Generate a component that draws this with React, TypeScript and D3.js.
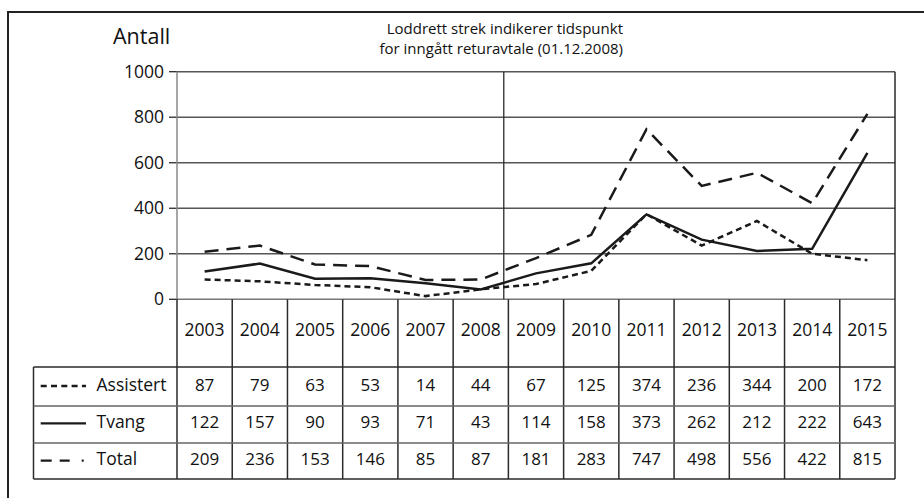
import React from "react";
import * as d3 from "d3";

const years = ["2003","2004","2005","2006","2007","2008","2009","2010","2011","2012","2013","2014","2015"];
const assistert = [87, 79, 63, 53, 14, 44, 67, 125, 374, 236, 344, 200, 172];
const tvang = [122, 157, 90, 93, 71, 43, 114, 158, 373, 262, 212, 222, 643];
const total = [209, 236, 153, 146, 85, 87, 181, 283, 747, 498, 556, 422, 815];
const yTicks = [0, 200, 400, 600, 800, 1000];
const seriesNames = ["Assistert", "Tvang", "Total"];
const titleLines = ["Loddrett strek indikerer tidspunkt", "for inngått returavtale (01.12.2008)"];
const yLabel = "Antall";
const agreementYear = "2008";
const agreementMonthFraction = 11 / 12;

const W = 924;
const H = 498;
const FONT = "'Open Sans', 'Noto Sans', sans-serif";

export default function App() {
  const plotLeft = 177;
  const plotRight = 895;
  const plotTop = 71.7;
  const plotBottom = 299.3;
  const x = d3.scaleBand<string>().domain(years).range([plotLeft, plotRight]).padding(0);
  const y = d3.scaleLinear().domain([0, 1000]).range([plotBottom, plotTop]);
  const bw = x.bandwidth();
  const cx = (yr: string) => (x(yr) as number) + bw / 2;

  const line = d3
    .line<number>()
    .x((_, i) => cx(years[i]))
    .y((d) => y(d));

  const series = [
    { name: seriesNames[0], values: assistert, dash: "6,4", legendDash: "6,4.3" },
    { name: seriesNames[1], values: tvang, dash: "none", legendDash: "none" },
    { name: seriesNames[2], values: total, dash: "14,8", legendDash: "11,8,10,12,2,100" },
  ];

  const rowTops = [367, 406, 443];
  const rowBottom = 479;
  const rowBaselines = [390.7, 428, 465];
  const legendLineY = [386, 423.3, 460.7];
  const tableLeft = 33.5;
  const yearBaseline = 335.5;

  const agreementX = cx(agreementYear) + (agreementMonthFraction - 0.5) * bw;

  const lineColor = "#2a2a2a";
  const gridColor = "#555";
  const textColor = "#111";

  return (
    <svg width={W} height={H} style={{ position: "absolute", left: 0, top: 0, background: "#fff" }}>
      <rect x={0} y={0} width={W} height={H} fill="#fff" />
      {/* outer frame */}
      <line x1={8} x2={W} y1={12} y2={12} stroke="#222" strokeWidth={2} />
      <line x1={8} x2={8} y1={11} y2={H} stroke="#222" strokeWidth={2} />

      {/* titles */}
      <text x={113} y={44} fontFamily={FONT} fontSize={21.5} fill={textColor}>{yLabel}</text>
      {titleLines.map((t, i) => (
        <text key={t} x={623} y={33.5 + i * 20.6} textAnchor="end" fontFamily={FONT} fontSize={15} fill={textColor}>{t}</text>
      ))}

      {/* gridlines */}
      {yTicks.filter((t) => t > 0).map((t) => (
        <line key={t} x1={plotLeft} x2={plotRight} y1={y(t)} y2={y(t)} stroke={gridColor} strokeWidth={1.4} />
      ))}
      {/* ticks and labels */}
      {yTicks.map((t) => (
        <g key={"t" + t}>
          <line x1={169} x2={plotLeft} y1={y(t)} y2={y(t)} stroke={lineColor} strokeWidth={1.3} />
          <text x={164} y={y(t) + 5.8} textAnchor="end" fontFamily={FONT} fontSize={17.5} fill={textColor}>{t}</text>
        </g>
      ))}

      {/* plot borders */}
      <line x1={plotLeft} x2={plotLeft} y1={plotTop} y2={plotBottom} stroke="#888" strokeWidth={1.5} />
      <line x1={plotLeft} x2={plotRight} y1={plotBottom} y2={plotBottom} stroke="#777" strokeWidth={1.5} />
      <line x1={plotRight} x2={plotRight} y1={plotTop} y2={rowBottom} stroke={lineColor} strokeWidth={1.5} />

      {/* agreement vertical line */}
      <line x1={agreementX} x2={agreementX} y1={plotTop} y2={plotBottom} stroke={lineColor} strokeWidth={1.3} />

      {/* series lines */}
      {series.map((s) => (
        <path
          key={s.name}
          d={line(s.values) || ""}
          fill="none"
          stroke="#1a1a1a"
          strokeWidth={2.5}
          strokeDasharray={s.dash}
          strokeLinejoin="miter"
        />
      ))}

      {/* table grid */}
      {years.map((yr) => (
        <line key={"v" + yr} x1={x(yr) as number} x2={x(yr) as number} y1={plotBottom} y2={rowBottom} stroke={lineColor} strokeWidth={1.5} />
      ))}
      <line x1={tableLeft} x2={tableLeft} y1={rowTops[0]} y2={rowBottom} stroke={lineColor} strokeWidth={1.5} />
      {[...rowTops, rowBottom].map((ry, i) => (
        <line key={"h" + i} x1={tableLeft} x2={plotRight} y1={ry} y2={ry} stroke={i === 0 || i === 3 ? lineColor : "#666"} strokeWidth={1.5} />
      ))}

      {/* year labels */}
      {years.map((yr) => (
        <text key={"y" + yr} x={cx(yr)} y={yearBaseline} textAnchor="middle" fontFamily={FONT} fontSize={17.5} fill={textColor}>{yr}</text>
      ))}

      {/* legend + values */}
      {series.map((s, r) => (
        <g key={"row" + s.name}>
          <line x1={40.7} x2={86} y1={legendLineY[r]} y2={legendLineY[r]} stroke="#1a1a1a" strokeWidth={2.3} strokeDasharray={s.legendDash} />
          <text x={96.5} y={rowBaselines[r]} fontFamily={FONT} fontSize={17.5} fill={textColor}>{s.name}</text>
          {s.values.map((v, i) => (
            <text key={i} x={cx(years[i])} y={rowBaselines[r]} textAnchor="middle" fontFamily={FONT} fontSize={17} fill={textColor}>{v}</text>
          ))}
        </g>
      ))}
    </svg>
  );
}
